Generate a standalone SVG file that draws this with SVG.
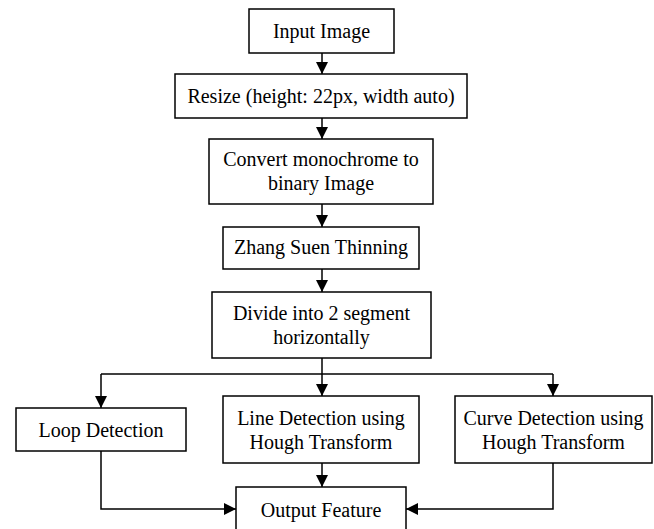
<svg xmlns="http://www.w3.org/2000/svg" width="654" height="529" viewBox="0 0 654 529">
  <style>
    .box { fill: #ffffff; stroke: #000000; stroke-width: 1.5; }
    .lbl { font-family: "Liberation Serif", "Times New Roman", serif; font-size: 20px; fill: #000000; text-anchor: middle; }
    .wire { fill: none; stroke: #000000; stroke-width: 1.5; }
  </style>
  <defs>
    <marker id="arrow" markerUnits="userSpaceOnUse" markerWidth="12" markerHeight="12" viewBox="0 0 12 12" refX="12" refY="6" orient="auto">
      <path d="M0,0 L12,6 L0,12 Z" fill="#000000"/>
    </marker>
  </defs>

  <rect width="654" height="529" fill="#ffffff"/>

  <g id="connectors">
    <line class="wire" x1="322" y1="53" x2="322" y2="74" marker-end="url(#arrow)"/>
    <line class="wire" x1="322" y1="118" x2="322" y2="139" marker-end="url(#arrow)"/>
    <line class="wire" x1="322" y1="204" x2="322" y2="227" marker-end="url(#arrow)"/>
    <line class="wire" x1="322" y1="269" x2="322" y2="292" marker-end="url(#arrow)"/>
    <line class="wire" x1="322" y1="358" x2="322" y2="374"/>
    <line class="wire" x1="101" y1="374" x2="553" y2="374"/>
    <line class="wire" x1="101" y1="374" x2="101" y2="408" marker-end="url(#arrow)"/>
    <line class="wire" x1="322" y1="374" x2="322" y2="396" marker-end="url(#arrow)"/>
    <line class="wire" x1="553" y1="374" x2="553" y2="396" marker-end="url(#arrow)"/>
    <line class="wire" x1="322" y1="463" x2="322" y2="487" marker-end="url(#arrow)"/>
    <polyline class="wire" points="101,451 101,509 236,509" marker-end="url(#arrow)"/>
    <polyline class="wire" points="553,463 553,509 406,509" marker-end="url(#arrow)"/>
  </g>

  <g id="input-image">
    <rect class="box" x="249" y="9" width="145" height="44"/>
    <text class="lbl" x="321.5" y="38">Input Image</text>
  </g>

  <g id="resize">
    <rect class="box" x="175" y="74" width="292" height="44"/>
    <text class="lbl" x="321" y="103">Resize (height: 22px, width auto)</text>
  </g>

  <g id="convert-binary">
    <rect class="box" x="209" y="139" width="224" height="65"/>
    <text class="lbl" x="321" y="166">Convert monochrome to</text>
    <text class="lbl" x="321" y="190">binary Image</text>
  </g>

  <g id="zhang-suen">
    <rect class="box" x="223" y="227" width="196" height="42"/>
    <text class="lbl" x="321" y="254">Zhang Suen Thinning</text>
  </g>

  <g id="divide">
    <rect class="box" x="212" y="292" width="219" height="66"/>
    <text class="lbl" x="321.5" y="320">Divide into 2 segment</text>
    <text class="lbl" x="321.5" y="344">horizontally</text>
  </g>

  <g id="loop-detection">
    <rect class="box" x="16" y="408" width="170" height="43"/>
    <text class="lbl" x="101" y="437">Loop Detection</text>
  </g>

  <g id="line-detection">
    <rect class="box" x="223" y="396" width="196" height="67"/>
    <text class="lbl" x="321" y="425">Line Detection using</text>
    <text class="lbl" x="321" y="449">Hough Transform</text>
  </g>

  <g id="curve-detection">
    <rect class="box" x="455" y="396" width="197" height="67"/>
    <text class="lbl" x="553.5" y="425">Curve Detection using</text>
    <text class="lbl" x="553.5" y="449">Hough Transform</text>
  </g>

  <g id="output-feature">
    <rect class="box" x="236" y="487" width="170" height="50"/>
    <text class="lbl" x="321" y="517">Output Feature</text>
  </g>
</svg>
